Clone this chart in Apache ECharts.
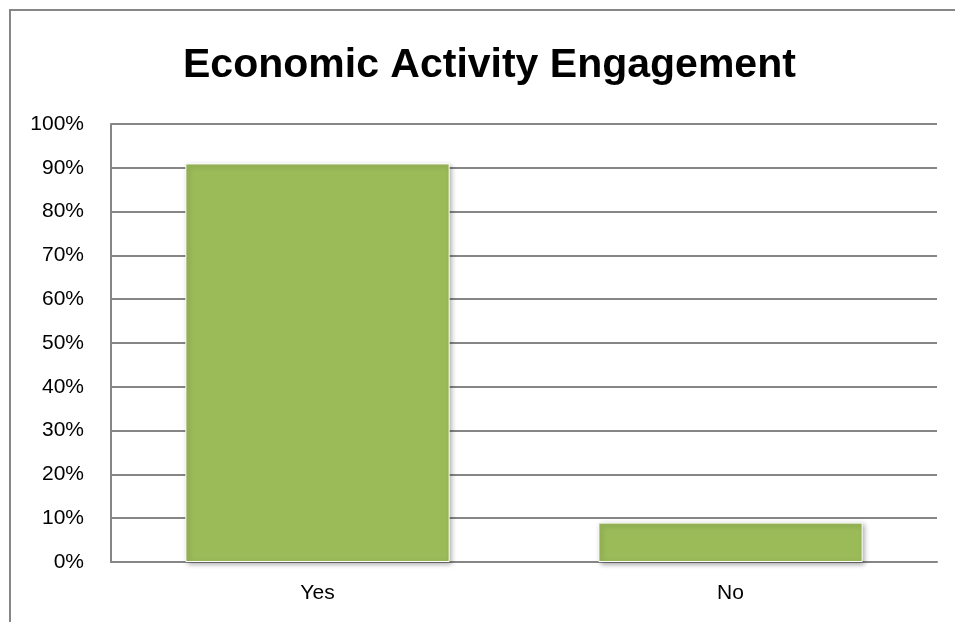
<!DOCTYPE html>
<html>
<head>
<meta charset="utf-8">
<title>Economic Activity Engagement</title>
<script src="https://cdn.jsdelivr.net/npm/echarts@6/dist/echarts.min.js"></script>
<style>
  html, body { margin: 0; padding: 0; background: #fff; }
  #chart { width: 955px; height: 622px; }
</style>
</head>
<body>
<div id="chart"></div>
<script>
// values (percent)
const categories = ["Yes", "No"];
const engagedShare = [91, 9];
const yTicks = { min: 0, max: 100, step: 10 };

const GRID_GREY = "#868686";
const BAR_GREEN = "#9bbb59";
const FONT = "Liberation Sans, Arial, sans-serif";

let chart = echarts.init(document.getElementById("chart"));

chart.setOption({
    backgroundColor: "#fff",
    animation: false,
    textStyle: { fontFamily: FONT },
    title: {
        text: "Economic Activity Engagement",
        left: 178,
        top: 40,
        textStyle: { fontFamily: FONT, fontSize: 41, fontWeight: "bold", color: "#000" }
    },
    // outer chart frame (only top and left edges are inside the picture)
    graphic: [{
        type: "rect",
        shape: { x: 10, y: 10, width: 980, height: 660 },
        style: { fill: "none", stroke: GRID_GREY, lineWidth: 2 },
        silent: true
    }],
    grid: { left: 111, right: 18, top: 124, bottom: 60 },
    xAxis: {
        type: "category",
        data: categories,
        axisLine: { show: true, lineStyle: { color: GRID_GREY, width: 2 } },
        axisTick: { show: false },
        axisLabel: { color: "#000", fontSize: 21, margin: 21 }
    },
    yAxis: {
        type: "value",
        min: yTicks.min,
        max: yTicks.max,
        interval: yTicks.step,
        axisLine: { show: true, lineStyle: { color: GRID_GREY, width: 2 } },
        axisTick: { show: false },
        splitLine: { show: true, lineStyle: { color: GRID_GREY, width: 2 } },
        axisLabel: { color: "#000", fontSize: 21, margin: 27, formatter: "{value}%" }
    },
    series: [{
        type: "bar",
        data: engagedShare,
        barWidth: "64%",
        itemStyle: {
            color: BAR_GREEN,
            borderColor: "#fff",
            borderWidth: 1,
            shadowColor: "rgba(0,0,0,0.35)",
            shadowBlur: 5,
            shadowOffsetX: 2,
            shadowOffsetY: 2
        }
    }]
});
</script>
</body>
</html>
